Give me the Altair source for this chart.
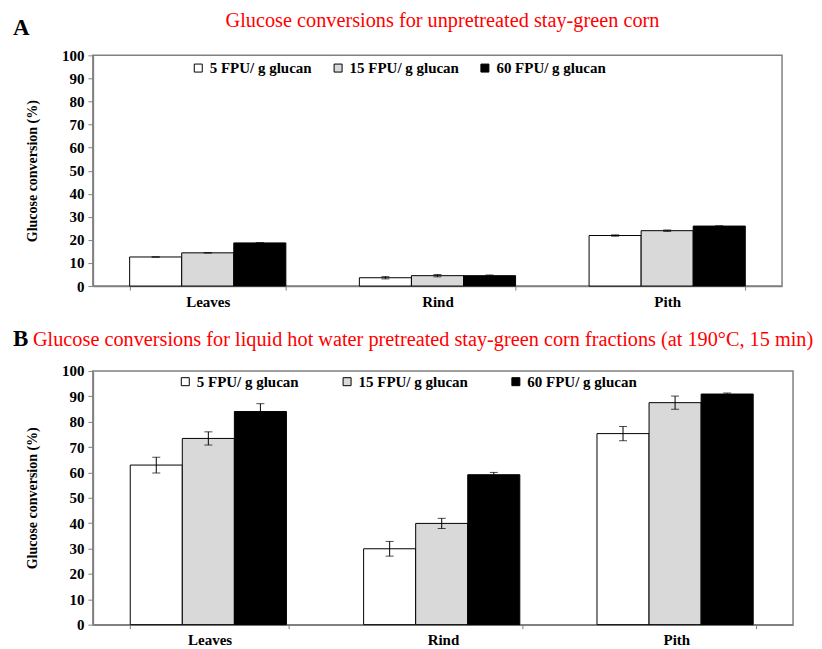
import altair as alt
import pandas as pd

fractions = ["Leaves", "Rind", "Pith"]
loadings = ["5 FPU/ g glucan", "15 FPU/ g glucan", "60 FPU/ g glucan"]
fills = ["#ffffff", "#d9d9d9", "#000000"]

# Panel A: unpretreated (Leaves, Rind, Pith)
a_5fpu = [12.6, 3.6, 21.9]
a_15fpu = [14.4, 4.5, 24.0]
a_60fpu = [18.7, 4.5, 26.0]
a_5fpu_err = [0.0, 0.5, 0.3]
a_15fpu_err = [0.0, 0.5, 0.3]
a_60fpu_err = [0.0, 0.3, 0.0]

# Panel B: liquid hot water pretreated (Leaves, Rind, Pith)
b_5fpu = [62.9, 29.9, 75.3]
b_15fpu = [73.4, 39.9, 87.5]
b_60fpu = [84.0, 59.1, 90.9]
b_5fpu_err = [3.1, 2.9, 2.8]
b_15fpu_err = [2.6, 2.0, 2.6]
b_60fpu_err = [3.1, 0.9, 0.4]

title_a = "Glucose conversions for unpretreated stay-green corn"
title_b = "Glucose conversions for liquid hot water pretreated stay-green corn fractions (at 190°C, 15 min)"

SERIF = "Liberation Serif"


def make_df(vals, errs):
    rows = []
    for load, v_list, e_list in zip(loadings, vals, errs):
        for frac, v, e in zip(fractions, v_list, e_list):
            rows.append({"fraction": frac, "loading": load, "value": v,
                         "lo": v - e, "hi": v + e})
    return pd.DataFrame(rows)


def panel(df, width, height, title, letter, letter_y, title_x, title_align, title_y,
          legend_x, legend_y, col_pad):
    base = alt.Chart(df)
    x = alt.X("fraction:N", sort=fractions,
              scale=alt.Scale(paddingInner=0.32, paddingOuter=0.16),
              axis=alt.Axis(title=None, labelAngle=0, tickBand="extent",
                            tickSize=4, labelPadding=4))
    xo = alt.XOffset("loading:N", sort=loadings,
                     scale=alt.Scale(domain=loadings, paddingInner=0, paddingOuter=0))
    yscale = alt.Scale(domain=[0, 100], nice=False)
    yaxis = alt.Axis(values=list(range(0, 101, 10)), title="Glucose conversion (%)",
                     grid=False, labelOverlap=False)
    bars = base.mark_bar(stroke="black", strokeWidth=1).encode(
        x=x, xOffset=xo,
        y=alt.Y("value:Q", scale=yscale, axis=yaxis),
        fill=alt.Fill("loading:N", sort=loadings,
                      scale=alt.Scale(domain=loadings, range=fills),
                      legend=alt.Legend(orient="none", legendX=legend_x, legendY=legend_y,
                                        direction="horizontal", title=None,
                                        symbolType="square", symbolSize=64,
                                        symbolStrokeColor="black", symbolStrokeWidth=1,
                                        labelFont=SERIF, labelFontSize=15,
                                        labelFontWeight="bold", labelColor="black",
                                        columnPadding=col_pad, labelOffset=4)),
    )
    rules = base.mark_rule(color="black", strokeWidth=1).encode(
        x=x, xOffset=xo, y=alt.Y("lo:Q", scale=yscale, axis=yaxis), y2="hi:Q")
    cap_lo = base.mark_tick(color="black", size=8, thickness=1).encode(
        x=x, xOffset=xo, y=alt.Y("lo:Q", scale=yscale, axis=yaxis))
    cap_hi = base.mark_tick(color="black", size=8, thickness=1).encode(
        x=x, xOffset=xo, y=alt.Y("hi:Q", scale=yscale, axis=yaxis))
    letter_txt = alt.Chart(pd.DataFrame({"t": [letter]})).mark_text(
        font=SERIF, fontSize=23, fontWeight="bold", color="black",
        align="left", baseline="middle").encode(
        text="t:N", x=alt.value(-80), y=alt.value(letter_y))
    title_txt = alt.Chart(pd.DataFrame({"t": [title]})).mark_text(
        font=SERIF, fontSize=20.3, color="red",
        align=title_align, baseline="middle").encode(
        text="t:N", x=alt.value(title_x), y=alt.value(title_y))
    return alt.layer(bars, rules, cap_lo, cap_hi, letter_txt, title_txt).properties(
        width=width, height=height)


pa = panel(make_df([a_5fpu, a_15fpu, a_60fpu], [a_5fpu_err, a_15fpu_err, a_60fpu_err]),
           690, 231, title_a, "A", -27, 350, "center", -34, 98, 5, 18)
pb = panel(make_df([b_5fpu, b_15fpu, b_60fpu], [b_5fpu_err, b_15fpu_err, b_60fpu_err]),
           701, 254, title_b, "B", -32, -60, "left", -31, 85, 3, 40)

chart = alt.vconcat(pa, pb, spacing=17).resolve_scale(
    fill="independent"
).resolve_legend(
    fill="independent"
).properties(
    padding={"left": 4, "top": 2, "right": 0, "bottom": 0}
).configure(
    font=SERIF
).configure_view(
    stroke="#808080", strokeWidth=1.5
).configure_axis(
    domainColor="#808080", tickColor="#808080", domainWidth=1.5,
    labelFont=SERIF, labelFontWeight="bold", labelFontSize=14, labelColor="black",
    titleFont=SERIF, titleFontWeight="bold", titleFontSize=14, titleColor="black",
).configure_axisY(
    tickSize=5, labelPadding=4, titlePadding=22, labelFontSize=15
).configure_axisX(
    labelFontSize=15
)

chart.save("out.html", embed_options={"renderer": "svg", "actions": False})
